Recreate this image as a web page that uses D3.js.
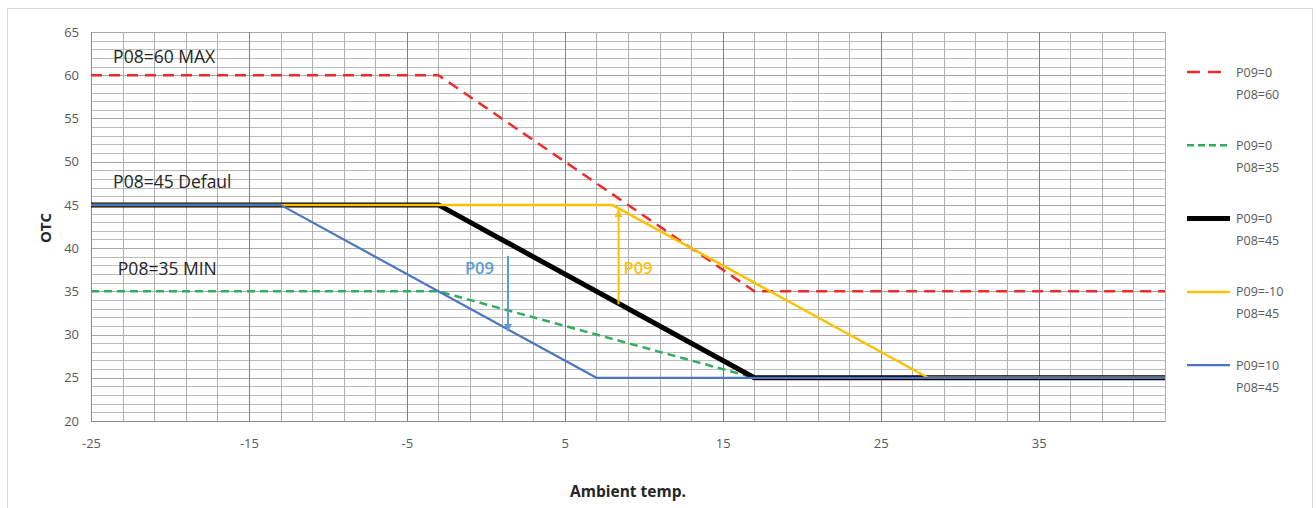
<!DOCTYPE html>
<html>
<head>
<meta charset="utf-8">
<script src="https://cdn.jsdelivr.net/npm/d3@7"></script>
<style>
  body { margin: 0; background: #fff; }
  svg { display: block; font-family: 'Open Sans', sans-serif; }
</style>
</head>
<body>
<svg id="chart" width="1316" height="508"></svg>
<script>
'use strict';

// ambient temperature breakpoints and OTC values per curve
const redX = [-25, -3, 17, 43];
const redY = [60, 60, 35, 35];
const greenX = [-25, -3, 17, 43];
const greenY = [35, 35, 25, 25];
const blackX = [-25, -3, 17, 43];
const blackY = [45, 45, 25, 25];
const yellowX = [-25, 8, 28, 43];
const yellowY = [45, 45, 25, 25];
const blueX = [-25, -13, 7, 43];
const blueY = [45, 45, 25, 25];

const xTickLabels = [-25, -15, -5, 5, 15, 25, 35];
const yTickLabels = [20, 25, 30, 35, 40, 45, 50, 55, 60, 65];

const legendTop = ['P09=0', 'P09=0', 'P09=0', 'P09=-10', 'P09=10'];
const legendBottom = ['P08=60', 'P08=35', 'P08=45', 'P08=45', 'P08=45'];

const noteText = ['P08=60 MAX', 'P08=45 Defaul', 'P08=35 MIN'];
const noteX = [-23.6, -23.6, -23.3];
const noteY = [61.4, 46.95, 36.9];

// annotation arrows: [x, fromY, toY]
const arrowBlue = [1.4, 39.1, 30.4];
const arrowYellow = [8.4, 33.5, 44.4];

const svg = d3.select('#chart');

let x = d3.scaleLinear().domain([-25, 43]).range([91, 1165]);
let y = d3.scaleLinear().domain([20, 65]).range([421, 32]);

// outer chart frame
svg.append('rect')
    .attr('x', 7.5).attr('y', 8.5)
    .attr('width', 1305).attr('height', 510)
    .attr('fill', 'none')
    .attr('stroke', '#d9d9d9');

// grid
let grid = svg.append('g').attr('class', 'grid');
grid.selectAll('line.h')
    .data(d3.range(20, 66, 1))
    .join('line')
    .attr('class', 'h')
    .attr('x1', x(-25)).attr('x2', x(43))
    .attr('y1', d => Math.round(y(d)) + 0.5)
    .attr('y2', d => Math.round(y(d)) + 0.5)
    .attr('stroke', d => d % 5 === 0 ? '#a6a6a6' : '#bdbdbd')
    .attr('stroke-width', 1);
grid.selectAll('line.v')
    .data(d3.range(-25, 44, 2))
    .join('line')
    .attr('class', 'v')
    .attr('y1', y(20)).attr('y2', y(65))
    .attr('x1', d => Math.round(x(d)) + 0.5)
    .attr('x2', d => Math.round(x(d)) + 0.5)
    .attr('stroke', d => (d + 25) % 10 === 0 ? '#7f7f7f' : '#b0b0b0')
    .attr('stroke-width', 1);

// axes
let xAxis = d3.axisBottom(x).tickValues(xTickLabels)
    .tickFormat(d => String(d)).tickSize(0).tickPadding(18);
let gx = svg.append('g').attr('transform', 'translate(0,' + y(20) + ')').call(xAxis);
gx.select('.domain').attr('stroke', '#8c8c8c');
gx.selectAll('text').attr('fill', '#595959').attr('font-size', 13)
    .attr('font-family', "'Open Sans', sans-serif");

let yAxis = d3.axisLeft(y).tickValues(yTickLabels)
    .tickFormat(d => String(d)).tickSize(0).tickPadding(12);
let gy = svg.append('g').attr('transform', 'translate(' + x(-25) + ',0)').call(yAxis);
gy.select('.domain').attr('stroke', '#8c8c8c');
gy.selectAll('text').attr('fill', '#595959').attr('font-size', 13)
    .attr('font-family', "'Open Sans', sans-serif");

svg.append('text')
    .attr('x', 628).attr('y', 497)
    .attr('text-anchor', 'middle')
    .attr('font-size', 15.5).attr('font-weight', 'bold')
    .attr('fill', '#262626')
    .text('Ambient temp.');

svg.append('text')
    .attr('transform', 'translate(51,' + 228 + ') rotate(-90)')
    .attr('text-anchor', 'middle')
    .attr('font-size', 15).attr('font-weight', 'bold')
    .attr('fill', '#262626')
    .text('OTC');

// curves
const series = [
    { xs: redX, ys: redY, color: '#ee2b2b', width: 2.5, dash: '11,7' },
    { xs: greenX, ys: greenY, color: '#2fae5d', width: 2.5, dash: '8,5' },
    { xs: blackX, ys: blackY, color: '#000000', width: 5, dash: null },
    { xs: yellowX, ys: yellowY, color: '#ffc000', width: 2.5, dash: null },
    { xs: blueX, ys: blueY, color: '#4a74c4', width: 2.2, dash: null }
];

let line = d3.line().x(d => x(d[0])).y(d => y(d[1]));

svg.append('g').attr('class', 'curves')
    .selectAll('path')
    .data(series)
    .join('path')
    .attr('d', s => line(d3.zip(s.xs, s.ys)))
    .attr('fill', 'none')
    .attr('stroke', s => s.color)
    .attr('stroke-width', s => s.width)
    .attr('stroke-dasharray', s => s.dash)
    .attr('stroke-linejoin', 'round');

// annotation labels
svg.append('g').attr('class', 'notes')
    .selectAll('text')
    .data(noteText)
    .join('text')
    .attr('x', (d, i) => x(noteX[i]))
    .attr('y', (d, i) => y(noteY[i]))
    .attr('font-size', 17.5)
    .attr('fill', '#262626')
    .text(d => d);

// P09 arrows
let defs = svg.append('defs');
[['ahBlue', '#5b9bd5'], ['ahYellow', '#ffc000']].forEach(function(a) {
    defs.append('marker')
        .attr('id', a[0])
        .attr('viewBox', '0 0 10 10')
        .attr('refX', 9).attr('refY', 5)
        .attr('markerWidth', 4).attr('markerHeight', 4)
        .attr('orient', 'auto')
        .append('path')
        .attr('d', 'M0,0 L10,5 L0,10 Z')
        .attr('fill', a[1]);
});

svg.append('line')
    .attr('x1', x(arrowBlue[0])).attr('x2', x(arrowBlue[0]))
    .attr('y1', y(arrowBlue[1])).attr('y2', y(arrowBlue[2]))
    .attr('stroke', '#5b9bd5').attr('stroke-width', 2)
    .attr('marker-end', 'url(#ahBlue)');
svg.append('text')
    .attr('x', x(arrowBlue[0]) - 43).attr('y', 274)
    .attr('font-size', 16.5).attr('font-weight', 600)
    .attr('fill', '#5b9bd5')
    .text('P09');

svg.append('line')
    .attr('x1', x(arrowYellow[0])).attr('x2', x(arrowYellow[0]))
    .attr('y1', y(arrowYellow[1])).attr('y2', y(arrowYellow[2]))
    .attr('stroke', '#ffc000').attr('stroke-width', 2)
    .attr('marker-end', 'url(#ahYellow)');
svg.append('text')
    .attr('x', x(arrowYellow[0]) + 5).attr('y', 274)
    .attr('font-size', 16.5).attr('font-weight', 600)
    .attr('fill', '#ffc000')
    .text('P09');

// legend
let legend = svg.append('g').attr('class', 'legend');
let item = legend.selectAll('g')
    .data(series)
    .join('g')
    .attr('transform', (d, i) => 'translate(1187,' + (72 + i * 73.3) + ')');
item.append('line')
    .attr('x1', 0).attr('x2', (d, i) => i === 0 ? 34 : 43)
    .attr('y1', 0).attr('y2', 0)
    .attr('stroke', d => d.color)
    .attr('stroke-width', d => d.width)
    .attr('stroke-dasharray', (d, i) => i === 0 ? '13,8' : (i === 1 ? '7,4' : null));
item.append('text')
    .attr('x', 49).attr('y', 4.5)
    .attr('font-size', 12.5).attr('fill', '#595959')
    .text((d, i) => legendTop[i]);
item.append('text')
    .attr('x', 49).attr('y', 26.5)
    .attr('font-size', 12.5).attr('fill', '#595959')
    .text((d, i) => legendBottom[i]);
</script>
</body>
</html>
